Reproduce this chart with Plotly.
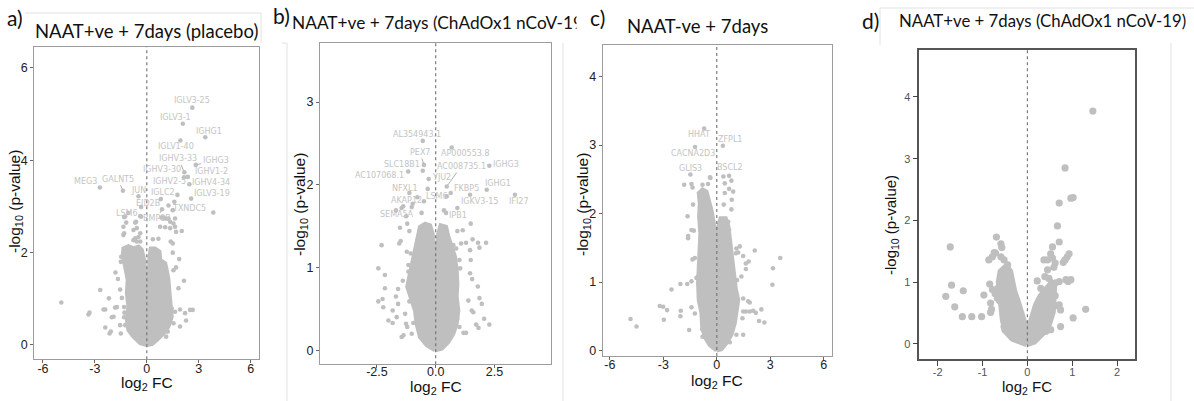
import plotly.graph_objects as go

W, H = 1194, 401
GREY = "#bfbfbf"
LABEL_GREY = "#c4c4c4"

# ---------------- Panel a: NAAT+ve + 7days (placebo) ----------------
a_core_x = [0.0, -0.38, -0.77, -1.06, -1.15, -1.06, -1.15, -1.10, -1.25, -1.38, -1.35, -1.06, -0.77, -0.48, -0.29, -0.15, -0.08,
            0.12, 0.15, 0.23, 0.48, 0.73, 0.77, 1.06, 1.15, 1.25, 1.31, 1.35, 1.44, 1.25, 0.96, 0.58, 0.29]
a_core_y = [0.0, 0.04, 0.18, 0.32, 0.54, 0.83, 1.12, 1.41, 1.70, 1.95, 2.09, 2.14, 2.09, 2.13, 2.06, 1.84, 1.41,
            1.41, 1.91, 2.09, 2.09, 2.02, 1.84, 1.77, 1.62, 1.41, 1.12, 0.83, 0.61, 0.40, 0.25, 0.11, 0.02]
a_x = [-4.94, -3.37, -3.31, -2.69, -2.50, -2.40, -2.19, -2.02, -1.92, -1.83, -1.73, -2.40, -2.15, -2.08, -1.50, -1.81,
       -1.67, -1.54, -1.44, -1.31, -1.29, -1.31, -1.25, -1.50, -1.48, -1.35, -1.31, -1.35, -1.19, -1.31, -0.77, -0.58,
       -0.67, -0.38, -0.38, -0.48, -0.67, -0.38, -0.77, -0.58, 0.35, 0.67, 0.77, 1.06, 1.35, 0.96, 1.25, 1.63, 1.35,
       1.54, 1.63, 1.69, 2.02, 1.38, 1.50, 1.50, 1.87, 1.69, 1.54, 2.15, 1.83, 1.92, 2.21, 2.50, 2.65, 2.27, 1.92, 1.54,
       1.44, 1.63, 1.21, 1.12, -1.54,
       2.63, 2.08, 3.38, 1.94, 2.83, 2.17, 2.15, 2.37, 2.46, 2.56, 3.84, 1.77, 1.59, 1.25, 1.50, 0.81, -0.48, -1.38,
       -2.71, -0.33, -0.33, -0.62, -1.25, -1.06, 0.88, 0.84, 1.06]
a_y = [0.92, 0.66, 0.70, 1.19, 0.77, 0.77, 1.01, 0.60, 0.61, 0.81, 0.82, 0.38, 0.25, 0.29, 0.25, 1.57, 1.43, 1.20, 1.02,
       0.82, 0.70, 0.60, 0.43, 1.80, 1.91, 2.38, 2.42, 2.56, 2.65, 2.77, 2.49, 2.53, 2.65, 2.79, 2.42, 2.34, 2.31, 2.24,
       2.27, 2.24, 2.29, 2.30, 2.56, 2.55, 2.53, 2.76, 2.74, 2.74, 2.67, 2.63, 2.56, 2.45, 2.47, 2.24, 2.20, 2.00, 1.86,
       1.68, 1.62, 1.39, 1.23, 0.77, 0.69, 0.76, 0.76, 0.53, 0.40, 0.47, 0.79, 0.72, 0.29, 0.18, 0.43,
       5.14, 4.79, 4.50, 4.43, 3.90, 3.74, 3.63, 3.64, 3.48, 3.17, 2.87, 3.25, 3.10, 3.02, 2.92, 3.16, 3.22, 3.34,
       3.41, 2.99, 2.78, 2.67, 2.78, 2.86, 2.94, 2.76, 2.74]
a_labels = ["IGLV3-25", "IGLV3-1", "IGHG1", "IGLV1-40", "IGHV3-33", "IGHG3", "IGHV3-30", "IGHV1-2", "IGHV2-5",
            "IGHV4-34", "MEG3", "GALNT5", "JUN", "IGLC2", "IGLV3-19", "EID2B", "TXNDC5", "LSM6", "BMP8B"]
a_lab_x = [2.63, 1.67, 3.61, 1.67, 1.83, 3.98, 0.90, 3.75, 1.30, 3.71, -3.56, -1.67, -0.48, 0.92, 3.77, 0.07, 2.44, -1.15, 0.58]
a_lab_y = [5.29, 4.93, 4.63, 4.29, 4.03, 4.00, 3.79, 3.76, 3.55, 3.51, 3.54, 3.59, 3.35, 3.31, 3.28, 3.07, 2.95, 2.85, 2.73]
a_lead_x = [None, None, None, None, 2.17, 2.83, None, None, None, None, None, -1.38, None, 0.81, None, None, None, None, 0.88]
a_lead_y = [None, None, None, None, 3.74, 3.90, None, None, None, None, None, 3.34, None, 3.16, None, None, None, None, 2.94]

# ---------------- Panel b: NAAT+ve + 7days (ChAdOx1 nCoV-19) ----------------
b_core_x = [-0.03, -0.38, -0.67, -0.81, -0.88, -1.09, -1.21, -1.09, -0.95, -0.81, -0.74, -0.67, -0.45, -0.24, -0.13, -0.09,
            0.07, 0.11, 0.21, 0.44, 0.54, 0.68, 0.82, 0.89, 0.92, 0.89, 0.96, 0.89, 0.75, 0.54, 0.26]
b_core_y = [0.0, 0.06, 0.16, 0.32, 0.48, 0.65, 0.77, 0.93, 1.13, 1.29, 1.41, 1.49, 1.53, 1.51, 1.41, 1.25,
            1.25, 1.41, 1.51, 1.49, 1.37, 1.25, 1.13, 0.97, 0.81, 0.65, 0.48, 0.32, 0.20, 0.10, 0.02]
b_x = [-2.30, -2.44, -2.16, -2.16, -2.44, -2.26, -2.23, -2.01, -1.83, -1.83, -1.66, -1.60, -1.40, -1.55, -1.49, -1.52,
       -1.30, -1.26, -1.21, -1.37, -1.02, -0.95, -1.45, -1.12, -1.16, -1.16, -1.23, -1.06, -1.12, -1.21, -1.69, -1.60,
       1.49, 1.15, 0.92, 1.08, 1.29, 1.57, 1.80, 2.14, 1.86, 1.46, 1.49, 0.75, 0.87, 1.01, 1.04, 1.46, 1.55, 1.79, 1.39,
       1.86, 1.96, 1.53, 1.60, 2.06, 2.28, 1.72, 1.82, 1.01, 1.18, 1.29, 0.92,
       -0.55, 0.68, -0.50, -0.55, -1.17, 2.28, -0.30, 0.47, 2.17, -0.34, 1.46, 3.37, 0.47, 0.64, -1.12, -0.78, -0.50,
       -0.98, -1.02, -1.38, -1.45, -1.26, -1.69, -0.60, 0.35, 0.44, 0.92]
b_y = [1.27, 0.99, 0.91, 0.75, 0.59, 0.62, 0.52, 0.36, 0.33, 0.48, 0.40, 0.74, 0.84, 1.29, 1.32, 1.48, 0.44, 0.32, 0.28,
       0.18, 0.20, 0.33, 0.16, 0.59, 1.03, 0.95, 1.19, 1.17, 1.44, 1.53, 0.65, 0.56,
       1.53, 1.45, 1.44, 1.29, 1.30, 1.34, 1.30, 1.30, 1.24, 1.21, 1.09, 1.27, 1.23, 1.09, 0.99, 0.93, 0.86, 0.77, 0.60,
       0.63, 0.56, 0.48, 0.46, 0.38, 0.31, 0.31, 0.27, 0.28, 0.21, 0.21, 0.38,
       2.53, 2.45, 2.24, 2.17, 2.16, 2.23, 2.07, 1.98, 1.94, 1.95, 1.88, 1.88, 1.86, 1.90, 1.90, 1.85, 1.80, 1.77, 1.73,
       1.74, 1.72, 1.62, 1.69, 1.66, 1.69, 1.66, 1.72]
b_labels = ["AL354943.1", "PEX7", "AP000553.8", "SLC18B1", "AC008735.1", "IGHG3", "AC107068.1", "YJU2", "IGHG1",
            "NFXL1", "FKBP5", "LSM6", "AKAP12", "IGKV3-15", "IFI27", "SEMA5A", "IPB1"]
b_lab_x = [-0.78, -0.67, 1.25, -1.45, 1.08, 2.99, -2.37, 0.23, 2.66, -1.31, 1.32, 0.07, -1.23, 1.86, 3.56, -1.63, 0.94]
b_lab_y = [2.61, 2.39, 2.38, 2.24, 2.22, 2.24, 2.11, 2.09, 2.01, 1.96, 1.95, 1.86, 1.81, 1.80, 1.80, 1.64, 1.63]
b_lead_x = [None, -0.50, None, None, 0.47, None, None, None, None, None, None, None, None, None, None, None, None]
b_lead_y = [None, 2.24, None, None, 1.98, None, None, None, None, None, None, None, None, None, None, None, None]

# ---------------- Panel c: NAAT-ve + 7days ----------------
c_core_x = [-0.02, -0.39, -0.67, -0.82, -0.86, -1.01, -1.05, -0.99, -0.95, -0.92, -0.99, -0.95, -1.01, -0.80, -0.58, -0.43,
            -0.30, -0.17, -0.07, -0.02, 0.06, 0.09, 0.21, 0.50, 0.65, 0.73, 0.82, 0.92, 1.07, 1.20, 1.10, 1.01, 0.82, 0.54, 0.26]
c_core_y = [0.0, 0.08, 0.20, 0.35, 0.55, 0.74, 0.98, 1.23, 1.47, 1.71, 1.96, 2.15, 2.30, 2.35, 2.32, 2.20,
            2.05, 1.86, 1.62, 1.47, 1.62, 1.81, 1.93, 1.93, 1.81, 1.62, 1.37, 1.13, 0.89, 0.74, 0.59, 0.40, 0.23, 0.11, 0.02]
c_x = [-4.84, -4.50, -3.20, -3.01, -2.79, -2.97, -2.54, -2.04, -1.66, -1.42, -2.02, -2.04, -1.42, -1.55, -1.23, -1.14,
       -1.05, -1.36, -1.23, -1.61, -1.61, -1.42, -1.29, -1.64, -1.33, -1.83, -1.42, -1.36, -0.80, -0.49, -0.36, -0.82,
       -0.80,
       0.69, 0.82, 0.45, 0.69, 0.92, 0.45, 0.84, 0.39, 0.82, 0.64, 0.69, 1.10, 1.29, 1.07, 1.20, 2.13, 1.48, 1.79, 1.63,
       1.63, 1.38, 1.14, 3.56, 3.15, 3.12, 1.48, 1.76, 1.85, 1.48, 1.63, 1.85, 2.04, 2.19, 2.50, 2.37, 2.67, 1.44, 1.48,
       1.10, 0.73,
       -0.71, 0.34, -1.22, -1.48, -0.38, 0.37]
c_y = [0.46, 0.35, 0.65, 0.64, 0.59, 0.45, 0.89, 0.97, 0.97, 1.01, 0.58, 0.50, 0.63, 0.30, 0.54, 1.06, 1.08, 1.33, 1.35,
       1.64, 1.67, 1.76, 1.75, 1.96, 2.13, 2.42, 2.43, 2.38, 2.42, 2.43, 2.52, 0.31, 0.20,
       2.55, 2.48, 2.44, 2.36, 2.32, 2.30, 2.20, 2.13, 2.06, 1.88, 1.76, 1.49, 1.52, 1.42, 1.43, 1.46, 1.38, 1.30, 1.27,
       1.19, 1.08, 1.03, 1.35, 1.20, 0.96, 0.76, 0.72, 0.70, 0.57, 0.57, 0.57, 0.58, 0.55, 0.60, 0.43, 0.41, 0.47, 0.23,
       0.23, 0.12,
       3.24, 2.99, 2.97, 2.57, 2.53, 2.54]
c_labels = ["HHAT", "ZFPL1", "CACNA2D3", "GLIS3", "BSCL2"]
c_lab_x = [-0.99, 0.75, -1.33, -1.50, 0.75]
c_lab_y = [3.15, 3.08, 2.88, 2.66, 2.67]

# ---------------- Panel d: NAAT+ve + 7days (ChAdOx1 nCoV-19) ----------------
d_core_x = [-0.01, -0.19, -0.33, -0.47, -0.54, -0.57, -0.59, -0.63, -0.59, -0.47, -0.39, -0.35, -0.30, -0.22, -0.13, -0.05,
            0.0, 0.05, 0.11, 0.20, 0.30, 0.41, 0.54, 0.59, 0.59, 0.56, 0.48, 0.33, 0.15]
d_core_y = [0.0, 0.04, 0.09, 0.20, 0.39, 0.60, 0.82, 1.01, 1.17, 1.25, 1.17, 1.01, 0.85, 0.68, 0.50, 0.28,
            0.15, 0.28, 0.44, 0.63, 0.77, 0.88, 0.98, 0.93, 0.71, 0.52, 0.33, 0.17, 0.04]
d_x = [1.46, 0.84, 0.97, 1.02, 0.71, 0.67, 0.71, 0.56, 0.93, 0.89, 0.84, 0.80, 0.52, 0.56, 0.45, 0.37, 0.62, 0.59, 0.45,
       0.39, 0.48, 0.86, 0.97, 0.91, 0.63, 0.71, 1.30, 1.02, 0.74, 0.71, 0.74, 0.52, 0.41,
       -1.72, -1.69, -1.43, -1.82, -1.62, -1.45, -1.24, -1.02, -0.97, -0.82, -0.82, -0.80, -0.84, -0.78, -0.72, -0.67,
       -0.86, -0.78, -0.71, -0.59, -0.52, -0.74, -0.69, -0.59, -0.57, -0.50, -0.52, -0.25, -0.19,
       -0.66, -0.62, -0.44, -0.40, -0.36, 0.30, 0.36, 0.62, 0.66, 0.22]
d_y = [3.77, 2.85, 2.36, 2.37, 2.28, 1.91, 1.65, 1.57, 1.46, 1.41, 1.36, 1.32, 1.46, 1.39, 1.36, 1.36, 1.31, 1.24, 1.20,
       1.09, 1.06, 1.04, 1.04, 1.01, 0.99, 1.01, 0.56, 0.42, 0.28, 0.63, 0.55, 0.23, 0.20,
       1.57, 0.95, 0.86, 0.77, 0.60, 0.44, 0.44, 0.44, 0.79, 0.66, 0.51, 0.56, 0.97, 0.88, 0.81, 0.74, 1.36, 1.41, 1.47,
       1.41, 1.36, 1.48, 1.73, 1.62, 1.56, 0.23, 0.28, 0.08, 0.06,
       0.90, 0.70, 1.28, 1.10, 0.95, 0.90, 0.84, 0.78, 0.62, 1.02]

panel_letters = ["a)", "b)", "c)", "d)"]
titles = ["NAAT+ve + 7days (placebo)", "NAAT+ve + 7days (ChAdOx1 nCoV-19",
          "NAAT-ve + 7days", "NAAT+ve + 7days (ChAdOx1 nCoV-19)"]
Y_TITLE = "-log<sub>10</sub> (p-value)"
X_TITLE = "log<sub>2</sub> FC"


def fx(px):
    return px / W


def fy(py):
    return 1 - py / H


fig = go.Figure()

panels = [
    dict(ax="", core=(a_core_x, a_core_y), pts=(a_x, a_y), ms=4.6,
         dom=((34.3, 259.3), (46.7, 359.3)), xr=[-6.5, 6.5], yr=[-0.31, 6.46],
         xt=[-6, -3, 0, 3, 6], xtt=["-6", "-3", "0", "3", "6"], yt=[0, 2, 4, 6], d=False, so=-5),
    dict(ax="2", core=(b_core_x, b_core_y), pts=(b_x, b_y), ms=4.6,
         dom=((320, 550.7), (43.3, 364.3)), xr=[-4.92, 4.89], yr=[-0.17, 3.71],
         xt=[-2.5, 0, 2.5], xtt=["-2.5", "0.0", "2.5"], yt=[0, 1, 2, 3], d=False, so=-7),
    dict(ax="3", core=(c_core_x, c_core_y), pts=(c_x, c_y), ms=4.6,
         dom=((602.7, 832.3), (45, 356)), xr=[-6.4, 6.48], yr=[-0.08, 4.46],
         xt=[-6, -3, 0, 3, 6], xtt=["-6", "-3", "0", "3", "6"], yt=[0, 1, 2, 3, 4], d=False, so=-6),
    dict(ax="4", core=(d_core_x, d_core_y), pts=(d_x, d_y), ms=7.2,
         dom=((919.3, 1135), (50, 359.3)), xr=[-2.41, 2.40], yr=[-0.25, 4.76],
         xt=[-2, -1, 0, 1, 2], xtt=["-2", "-1", "0", "1", "2"], yt=[0, 1, 2, 3, 4], d=True, so=-3),
]

shapes = []
layout_axes = {}
for p in panels:
    xa, ya = "x" + p["ax"], "y" + p["ax"]
    cx, cy = list(p["core"][0]), list(p["core"][1])
    cx.append(cx[0])
    cy.append(cy[0])
    fig.add_trace(go.Scatter(x=cx, y=cy, mode="lines", fill="toself", fillcolor=GREY,
                             line=dict(color=GREY, width=p["ms"] - 0.5), xaxis=xa, yaxis=ya,
                             hoverinfo="skip", showlegend=False))
    fig.add_trace(go.Scatter(x=p["pts"][0], y=p["pts"][1], mode="markers",
                             marker=dict(size=p["ms"], color=GREY, line=dict(width=0)),
                             xaxis=xa, yaxis=ya, showlegend=False))
    (x0, x1), (y0, y1) = p["dom"]
    lc = "#555555" if p["d"] else "#9c9c9c"
    lw = 1.5 if p["d"] else 1.1
    tf = dict(family="Liberation Sans, Arial", size=11 if p["d"] else 12.5,
              color="#555555" if p["d"] else "#222222")
    common = dict(showgrid=False, zeroline=False, showline=True, linecolor=lc, linewidth=lw, mirror=True,
                  ticks="outside", ticklen=5 if p["d"] else 3, tickwidth=1.2 if p["d"] else 1,
                  tickcolor="#444444" if p["d"] else "#666666", tickfont=tf, fixedrange=True)
    layout_axes["xaxis" + p["ax"]] = dict(domain=[fx(x0), fx(x1)], range=p["xr"], tickvals=p["xt"],
                                          ticktext=p["xtt"], anchor=ya, ticklabelstandoff=p["so"], **common)
    layout_axes["yaxis" + p["ax"]] = dict(domain=[fy(y1), fy(y0)], range=p["yr"], tickvals=p["yt"],
                                          ticktext=[str(v) for v in p["yt"]], anchor=xa, **common)
    shapes.append(dict(type="line", xref=xa, yref=ya + " domain", x0=0, x1=0, y0=0, y1=1,
                       line=dict(color="#707070", width=1.1, dash="dot"), layer="above"))

annotations = []


def gene_labels(names, lx, ly, px, py, axis):
    for i, n in enumerate(names):
        if px is not None and px[i] is not None:
            annotations.append(dict(text=n, x=px[i], y=py[i], ax=lx[i], ay=ly[i], axref="x" + axis,
                                    ayref="y" + axis, xref="x" + axis, yref="y" + axis, showarrow=True,
                                    arrowhead=0, arrowwidth=0.8, arrowcolor="#9a9a9a", standoff=2,
                                    font=dict(family="DejaVu Sans", size=8, color=LABEL_GREY)))
        else:
            annotations.append(dict(text=n, x=lx[i], y=ly[i], xref="x" + axis, yref="y" + axis,
                                    showarrow=False,
                                    font=dict(family="DejaVu Sans", size=8, color=LABEL_GREY)))


gene_labels(a_labels, a_lab_x, a_lab_y, a_lead_x, a_lead_y, "")
gene_labels(b_labels, b_lab_x, b_lab_y, b_lead_x, b_lead_y, "2")
gene_labels(c_labels, c_lab_x, c_lab_y, None, None, "3")

TFONT = "Lato, Carlito, Calibri, sans-serif"
# titles
title_pos = [(146, 31, "center", 18.5), (290, 23, "left", 17.3), (697, 26, "center", 18.5), (1042, 21, "center", 16.8)]
for t, (px, py, anc, sz) in zip(titles, title_pos):
    annotations.append(dict(text=t, x=fx(px), y=fy(py), xref="paper", yref="paper", showarrow=False,
                            xanchor=anc, yanchor="middle", font=dict(family=TFONT, size=sz, color="#111111")))
# white edge of panel c's picture, which hides the end of panel b's title
annotations.append(dict(text=" ", x=fx(576), y=fy(4), xref="paper", yref="paper", showarrow=False,
                        xanchor="left", yanchor="top", width=40, height=36, bgcolor="white",
                        font=dict(size=10)))
# panel letters
for letter, (px, py) in zip(panel_letters, [(15, 18), (281, 16), (597, 18), (870, 20)]):
    annotations.append(dict(text=letter, x=fx(px), y=fy(py), xref="paper", yref="paper", showarrow=False,
                            xanchor="center", yanchor="middle", font=dict(family=TFONT, size=21, color="#111111")))
# axis titles
AXF = "Liberation Sans, Arial"
for (ypx, ypy, xpx, xpy, sz) in [(15, 202, 147, 383, 15.5), (300, 205, 435.7, 387, 15.5),
                                 (583, 205, 716.7, 381, 15.5), (891, 225, 1027.3, 387, 15)]:
    annotations.append(dict(text=Y_TITLE, x=fx(ypx), y=fy(ypy), xref="paper", yref="paper", showarrow=False,
                            textangle=-90, xanchor="center", yanchor="middle",
                            font=dict(family=AXF, size=sz, color="#111111")))
    annotations.append(dict(text=X_TITLE, x=fx(xpx), y=fy(xpy), xref="paper", yref="paper", showarrow=False,
                            xanchor="center", yanchor="middle", font=dict(family=AXF, size=sz, color="#111111")))

# faint frames of the assembled figure
FR = "#e2e2e2"
for (x0, y0, x1, y1) in [(25, 13, 261, 13), (261, 13, 261, 43), (287, 43, 287, 401), (282, 43, 287, 43),
                         (563, 43, 563, 401), (880, 8, 1194, 8), (880, 8, 880, 45), (1171, 43, 1171, 401)]:
    shapes.append(dict(type="line", xref="paper", yref="paper", x0=fx(x0), y0=fy(y0), x1=fx(x1), y1=fy(y1),
                       line=dict(color=FR, width=1)))

fig.update_layout(template="none", width=W, height=H, autosize=False, margin=dict(l=0, r=0, t=0, b=0),
                  paper_bgcolor="white", plot_bgcolor="white", showlegend=False,
                  font=dict(family="Liberation Sans, Arial", color="#222222"),
                  shapes=shapes, annotations=annotations, **layout_axes)

fig.write_html("out.html")
